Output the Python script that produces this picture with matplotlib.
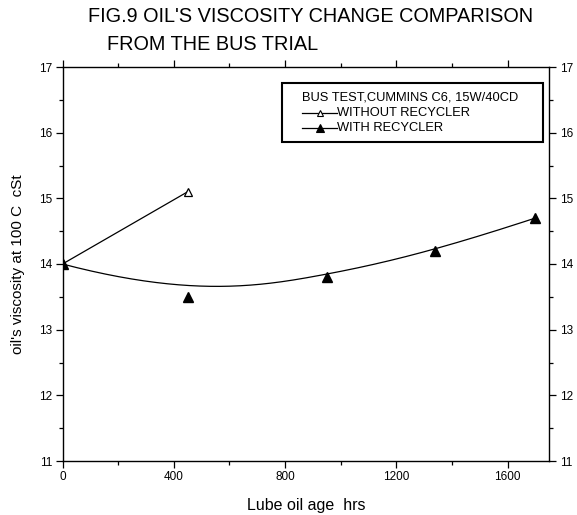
import numpy as np
import matplotlib
matplotlib.use("Agg")
import matplotlib.pyplot as plt
from matplotlib.ticker import MultipleLocator
from matplotlib.patches import Rectangle
from matplotlib.lines import Line2D

plt.rcParams['font.family'] = ['Liberation Sans', 'DejaVu Sans']

title_lines = ["FIG.9 OIL'S VISCOSITY CHANGE COMPARISON", "FROM THE BUS TRIAL"]
legend_title = "BUS TEST,CUMMINS C6, 15W/40CD"
without_label = "WITHOUT RECYCLER"
with_label = "WITH RECYCLER"

x_without = [0, 450]
y_without = [14.0, 15.1]
x_with = [0, 450, 950, 1340, 1700]
y_with = [14.0, 13.5, 13.8, 14.2, 14.7]

x_ticks = [0, 400, 800, 1200, 1600]
y_ticks = [11, 12, 13, 14, 15, 16, 17]

W, H = 577, 515


def bspline(px, py, n=300, k=3):
    px = np.asarray(px, float)
    py = np.asarray(py, float)
    m = len(px)
    inner = np.linspace(0, 1, m - k + 1)
    t = np.concatenate([[0] * k, inner, [1] * k])
    u = np.linspace(0, 1, n)
    u[-1] = 1 - 1e-12

    def N(i, p, uu):
        if p == 0:
            return np.where((t[i] <= uu) & (uu < t[i + 1]), 1.0, 0.0)
        a = 0.0
        b = 0.0
        if t[i + p] != t[i]:
            a = (uu - t[i]) / (t[i + p] - t[i]) * N(i, p - 1, uu)
        if t[i + p + 1] != t[i + 1]:
            b = (t[i + p + 1] - uu) / (t[i + p + 1] - t[i + 1]) * N(i + 1, p - 1, uu)
        return a + b

    B = np.array([N(i, k, u) for i in range(m)])
    return B.T @ px, B.T @ py


fig = plt.figure(figsize=(W / 100, H / 100), dpi=100)
ax_l, ax_r, ax_t, ax_b = 62.5, 549.3, 67, 461
ax = fig.add_axes([ax_l / W, 1 - ax_b / H, (ax_r - ax_l) / W, (ax_b - ax_t) / H])


def afx(px):
    return (px - ax_l) / (ax_r - ax_l)


def afy(py):
    return (ax_b - py) / (ax_b - ax_t)


ax.plot(x_without, y_without, color='black', lw=0.9, marker='^', markersize=6,
        markerfacecolor='white', markeredgecolor='black', markeredgewidth=0.9,
        zorder=3)
sx, sy = bspline(x_with, y_with)
ax.plot(sx, sy, color='black', lw=0.9, zorder=2)
ax.plot(x_with, y_with, linestyle='none', marker='^', markersize=6.5,
        color='black', zorder=4)

ax.set_xlim(0, 1750)
ax.set_ylim(11, 17)
ax.set_xticks(x_ticks)
ax.set_yticks(y_ticks)
ax.xaxis.set_minor_locator(MultipleLocator(200))
ax.yaxis.set_minor_locator(MultipleLocator(0.5))
ax.tick_params(which='both', direction='out', top=True, right=True,
               labelright=True, labelsize=8.5, width=0.9)
ax.tick_params(which='major', length=5, pad=2.5)
ax.tick_params(which='minor', length=3)
for s in ax.spines.values():
    s.set_linewidth(1.0)

ax.set_xlabel("Lube oil age  hrs", fontsize=11.5, labelpad=10.5)
ax.set_ylabel("oil's viscosity at 100 C  cSt", fontsize=11, labelpad=10)

# legend box drawn manually
ax.add_patch(Rectangle((afx(282), afy(142)), afx(543) - afx(282), afy(83) - afy(142),
                       transform=ax.transAxes, facecolor='white', edgecolor='black',
                       lw=1.5, zorder=5))
fs_leg = 9.3
ax.text(afx(302), afy(98), legend_title, transform=ax.transAxes, fontsize=fs_leg,
        ha='left', va='center', zorder=6)
for yy, lab, fc, ms in [(113, without_label, 'white', 5), (128, with_label, 'black', 6)]:
    ax.add_line(Line2D([afx(302), afx(337)], [afy(yy), afy(yy)], transform=ax.transAxes,
                       color='black', lw=0.9, zorder=6))
    ax.add_line(Line2D([afx(319.5)], [afy(yy)], transform=ax.transAxes, marker='^',
                       markersize=ms, markerfacecolor=fc, markeredgecolor='black',
                       markeredgewidth=0.8, linestyle='none', zorder=7))
    ax.text(afx(337), afy(yy), lab, transform=ax.transAxes, fontsize=fs_leg,
            ha='left', va='center', zorder=6)

fig.text(311 / W, 1 - 17 / H, title_lines[0], fontsize=14.3, ha='center', va='center')
fig.text(107 / W, 1 - 45 / H, title_lines[1], fontsize=14.3, ha='left', va='center')

fig.savefig("out.png", dpi=100)
